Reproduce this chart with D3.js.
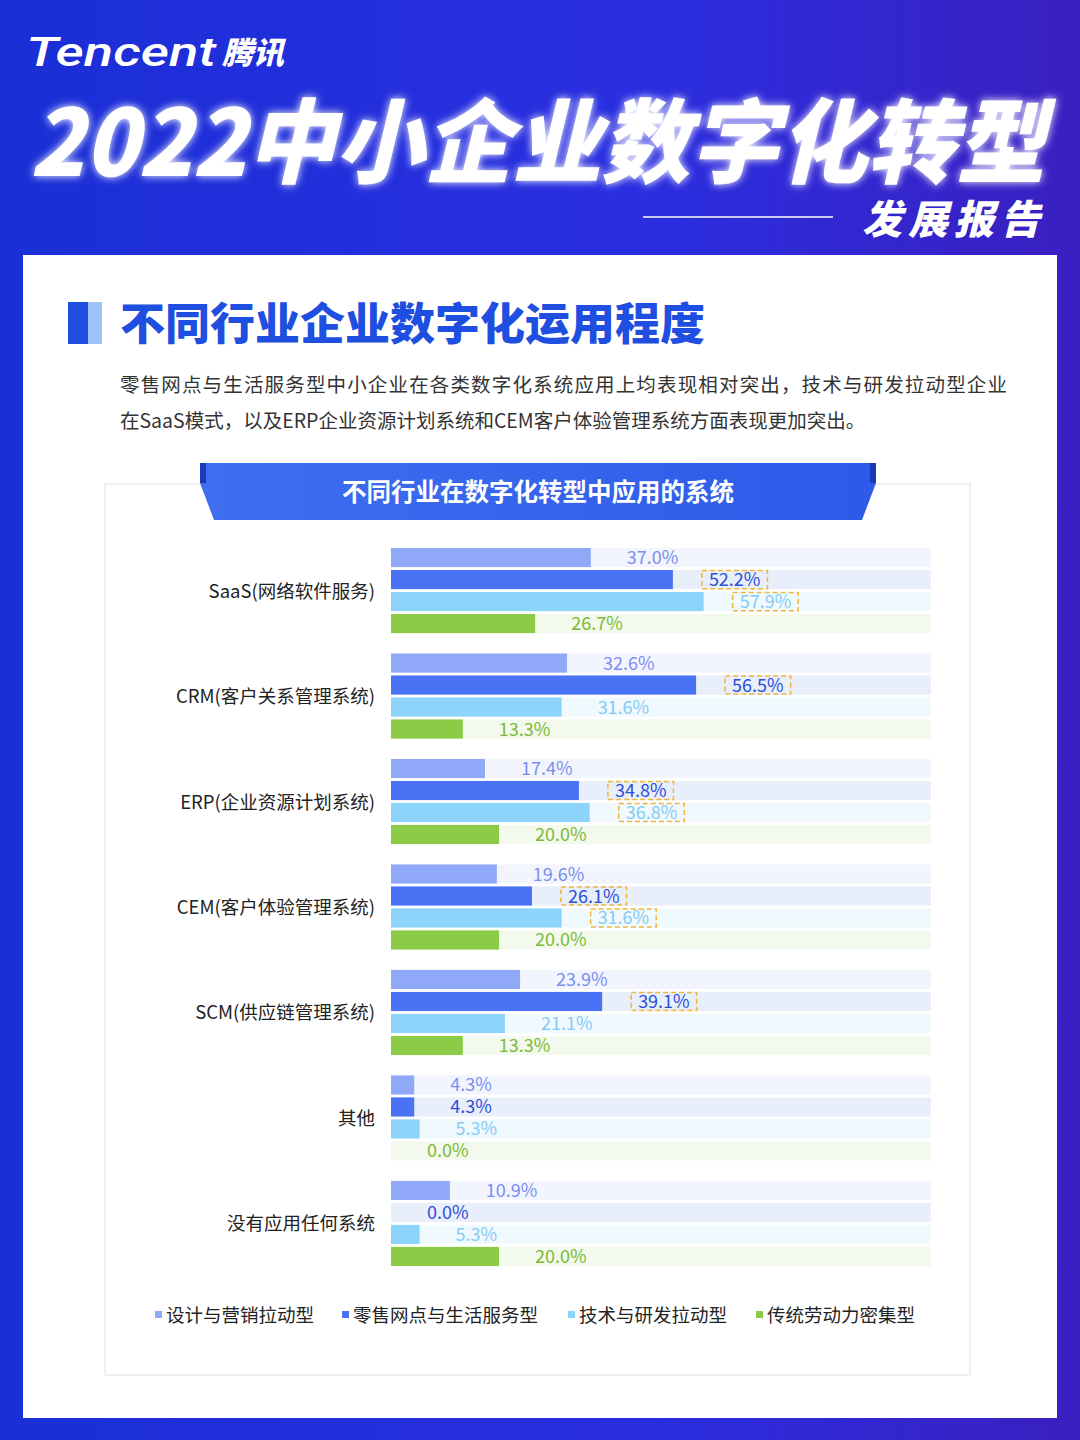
<!DOCTYPE html>
<html><head><meta charset="utf-8">
<script src="https://cdn.jsdelivr.net/npm/d3@7/dist/d3.min.js"></script>
<style>body{margin:0;width:1080px;height:1440px;overflow:hidden;font-family:"Noto Sans CJK SC","Noto Sans",sans-serif}</style>
</head><body><svg id="c" width="1080" height="1440"></svg>
<script>
const categories=["SaaS(网络软件服务)","CRM(客户关系管理系统)","ERP(企业资源计划系统)","CEM(客户体验管理系统)","SCM(供应链管理系统)","其他","没有应用任何系统"];
const seriesNames=["设计与营销拉动型","零售网点与生活服务型","技术与研发拉动型","传统劳动力密集型"];
const design=[37.0,32.6,17.4,19.6,23.9,4.3,10.9];
const retail=[52.2,56.5,34.8,26.1,39.1,4.3,0.0];
const tech=[57.9,31.6,36.8,31.6,21.1,5.3,5.3];
const labor=[26.7,13.3,20.0,20.0,13.3,0.0,20.0];
const highlighted=[[0,1],[0,2],[1,1],[2,1],[2,2],[3,1],[3,2],[4,1]];
const colors=["#8fa8f8","#4a72f5","#8dd4fb","#8ccb45"];
const textColors=["#7b8ff0","#2a4fd8","#86cbf5","#79bb35"];
const trackColors=["#f2f5fe","#e9eefb","#f0f9fe","#f3f9ec"];
const series=[design,retail,tech,labor];

const svg=d3.select("#c");
const defs=svg.append("defs");
const g1=defs.append("linearGradient").attr("id","bg").attr("x1",0).attr("x2",1).attr("y1",0).attr("y2",0);
g1.append("stop").attr("offset","0").attr("stop-color","#1a2fd6");
g1.append("stop").attr("offset","0.6").attr("stop-color","#2a2ee0");
g1.append("stop").attr("offset","1").attr("stop-color","#3a1fc0");
const gb=defs.append("linearGradient").attr("id","ban").attr("x1",0).attr("x2",1);
gb.append("stop").attr("offset","0").attr("stop-color","#3f6ef0");
gb.append("stop").attr("offset","1").attr("stop-color","#2d5ae8");
const f=defs.append("filter").attr("id","glow");
f.append("feGaussianBlur").attr("stdDeviation",4).attr("result","b");
const fm=f.append("feMerge");fm.append("feMergeNode").attr("in","b");fm.append("feMergeNode").attr("in","SourceGraphic");

svg.append("rect").attr("width",1080).attr("height",1440).attr("fill","url(#bg)");
svg.append("text").attr("x",26).attr("y",66).attr("fill","#fff").attr("font-size",40).attr("font-style","italic").attr("font-weight",500).attr("font-family","Roboto").attr("textLength",190).attr("lengthAdjust","spacingAndGlyphs").text("Tencent");
svg.append("text").attr("x",222).attr("y",64).attr("fill","#fff").attr("font-size",31).attr("font-weight",900).attr("font-style","italic").text("腾讯");
svg.append("text").attr("x",30).attr("y",176).attr("fill","#fff").attr("font-size",92).attr("font-weight",900).attr("font-style","italic").attr("filter","url(#glow)").attr("textLength",1015).attr("lengthAdjust","spacingAndGlyphs").text("2022中小企业数字化转型");
svg.append("line").attr("x1",643).attr("x2",833).attr("y1",217).attr("y2",217).attr("stroke","#fff").attr("stroke-width",1.5);
svg.append("text").attr("x",1046).attr("y",234).attr("text-anchor","end").attr("fill","#fff").attr("font-size",40).attr("font-weight",900).attr("font-style","italic").attr("letter-spacing",6).text("发展报告");

svg.append("rect").attr("x",23).attr("y",255).attr("width",1034).attr("height",1163).attr("fill","#fff");
svg.append("rect").attr("x",68).attr("y",302).attr("width",20).attr("height",42).attr("fill","#1f4fe0");
svg.append("rect").attr("x",88).attr("y",302).attr("width",14).attr("height",42).attr("fill","#9ec2fa");
svg.append("text").attr("x",120).attr("y",340).attr("fill","#1f4fe0").attr("font-size",44).attr("font-weight",900).attr("textLength",585).attr("lengthAdjust","spacingAndGlyphs").text("不同行业企业数字化运用程度");
svg.append("text").attr("x",120).attr("y",392).attr("fill","#333").attr("font-size",19.5).attr("textLength",887).text("零售网点与生活服务型中小企业在各类数字化系统应用上均表现相对突出，技术与研发拉动型企业");
svg.append("text").attr("x",120).attr("y",428).attr("fill","#333").attr("font-size",19.5).text("在SaaS模式，以及ERP企业资源计划系统和CEM客户体验管理系统方面表现更加突出。");

svg.append("rect").attr("x",105).attr("y",484).attr("width",865).attr("height",891).attr("fill","#fff").attr("stroke","#e6ecf5").attr("stroke-width",1.5);
svg.append("path").attr("d","M200,463 L876,463 L876,483 L862,520 L214,520 L200,483 Z").attr("fill","url(#ban)");
svg.append("path").attr("d","M200,463 L206,463 L206,483 L200,483 Z M870,463 L876,463 L876,483 L870,483 Z").attr("fill","#1a3ab8");
svg.append("text").attr("x",538).attr("y",501).attr("text-anchor","middle").attr("fill","#fff").attr("font-size",24.5).attr("font-weight",700).text("不同行业在数字化转型中应用的系统");

const x=d3.scaleLinear().domain([0,100]).range([391,931]);
const yG=d3.scaleBand().domain(categories).range([548,1266]).paddingInner(0.193).paddingOuter(0);
const yS=d3.scaleBand().domain(seriesNames).range([0,yG.bandwidth()]).paddingInner(0.13);
categories.forEach((c,ci)=>{
  const g=svg.append("g").attr("transform",`translate(0,${yG(c)})`);
  g.append("text").attr("x",375).attr("y",yG.bandwidth()/2+7).attr("text-anchor","end").attr("fill","#222").attr("font-size",18.5).text(c);
  const boxes=[];
  seriesNames.forEach((s,si)=>{
    const v=series[si][ci], y0=yS(s), h=yS.bandwidth();
    g.append("rect").attr("x",x(0)).attr("y",y0).attr("width",x(100)-x(0)).attr("height",h).attr("fill",trackColors[si]);
    g.append("rect").attr("x",x(0)).attr("y",y0).attr("width",x(v)-x(0)).attr("height",h).attr("fill",colors[si]);
    const tx=x(v)+36;
    const t=g.append("text").attr("x",tx).attr("y",y0+h/2+6.5).attr("fill",textColors[si]).attr("font-size",18).text(v.toFixed(1)+"%");
    if(highlighted.some(d=>d[0]===ci&&d[1]===si)) boxes.push([tx,y0,h,t.node().getComputedTextLength()]);
  });
  boxes.forEach(([tx,y0,h,w])=>{
    g.append("rect").attr("x",tx-7).attr("y",y0+0.5).attr("width",w+14).attr("height",h-1).attr("fill","none").attr("stroke","#f0b63a").attr("stroke-width",1.5).attr("stroke-dasharray","5,3");
  });
});
const lx=[155,342,568,756];
seriesNames.forEach((s,i)=>{
  svg.append("rect").attr("x",lx[i]).attr("y",1311).attr("width",7).attr("height",7).attr("fill",colors[i]);
  svg.append("text").attr("x",lx[i]+11).attr("y",1322).attr("fill","#222").attr("font-size",18.5).text(s);
});
</script></body></html>
